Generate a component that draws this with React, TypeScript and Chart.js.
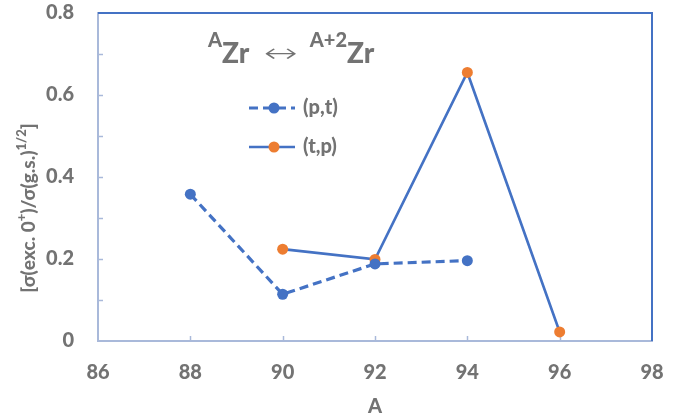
import React, { useEffect, useRef } from "react";
import { Chart, registerables } from "chart.js";

Chart.register(...registerables);

// ---- data ----
const massPT = [88, 90, 92, 94];
const ratioPT = [0.358, 0.114, 0.188, 0.196];
const massTP = [90, 92, 94, 96];
const ratioTP = [0.224, 0.199, 0.655, 0.022];
const seriesLabels = ["(p,t)", "(t,p)"];
const xMin = 86;
const xMax = 98;
const xStep = 2;
const yMin = 0;
const yMax = 0.8;
const yStep = 0.2;
const yMinorStep = 0.1;
const xTitle = "A";

const BLUE = "#4472C4";
const ORANGE = "#ED7D31";
const TEXT = "#737373";
const AXIS = "#A9B9DA";
const FONT = "Lato, 'Open Sans', sans-serif";
const W = "900";

const decorPlugin = {
  id: "decor",
  beforeDatasetsDraw(chart: any) {
    const { ctx, chartArea } = chart;
    const xs = chart.scales.x;
    const ys = chart.scales.y;
    ctx.save();
    ctx.strokeStyle = BLUE;
    ctx.lineWidth = 2;
    ctx.beginPath();
    ctx.moveTo(chartArea.left, chartArea.top);
    ctx.lineTo(chartArea.right, chartArea.top);
    ctx.lineTo(chartArea.right, chartArea.bottom);
    ctx.stroke();
    ctx.strokeStyle = AXIS;
    ctx.lineWidth = 1.5;
    for (let v = yMinorStep; v <= yMax - 1e-9; v += yMinorStep) {
      const py = Math.round(ys.getPixelForValue(v)) + 0.5;
      ctx.beginPath();
      ctx.moveTo(chartArea.left, py);
      ctx.lineTo(chartArea.left + 5, py);
      ctx.stroke();
    }
    for (let v = xMin + xStep; v < xMax; v += xStep) {
      const px = Math.round(xs.getPixelForValue(v)) + 0.5;
      ctx.beginPath();
      ctx.moveTo(px, chartArea.bottom);
      ctx.lineTo(px, chartArea.bottom - 5);
      ctx.stroke();
    }
    ctx.restore();
  },
  afterDraw(chart: any) {
    const { ctx } = chart;
    ctx.save();
    ctx.fillStyle = TEXT;
    ctx.textBaseline = "alphabetic";
    ctx.textAlign = "left";

    // y-axis title (rotated, with superscripts)
    const yParts: [string, boolean][] = [
      ["[σ(exc. 0", false],
      ["+", true],
      [")/σ(g.s.)", false],
      ["1/2", true],
      ["]", false],
    ];
    const mainFont = `${W} 19px ${FONT}`;
    const supFont = `${W} 13px ${FONT}`;
    let total = 0;
    for (const [t, sup] of yParts) {
      ctx.font = sup ? supFont : mainFont;
      total += ctx.measureText(t).width;
    }
    ctx.translate(35, 208);
    ctx.rotate(-Math.PI / 2);
    let cx = -total / 2;
    for (const [t, sup] of yParts) {
      ctx.font = sup ? supFont : mainFont;
      ctx.fillText(t, cx, sup ? -9 : 0);
      cx += ctx.measureText(t).width;
    }
    ctx.setTransform(1, 0, 0, 1, 0, 0);

    // annotation  AZr <-> A+2Zr
    const supA = `${W} 20px ${FONT}`;
    const big = `${W} 28px ${FONT}`;
    const base = 63;
    const supBase = 47;
    ctx.font = supA;
    ctx.fillText("A", 208, supBase);
    ctx.font = big;
    ctx.fillText("Zr", 222, base);
    ctx.font = `200 26px 'DejaVu Sans', sans-serif`;
    const aw = ctx.measureText("↔").width;
    ctx.save();
    ctx.translate(264, base - 1);
    ctx.scale(34 / aw, 1);
    ctx.fillText("↔", 0, 0);
    ctx.restore();
    ctx.font = supA;
    const a2w = ctx.measureText("A+2").width;
    ctx.fillText("A+2", 347 - a2w, supBase);
    ctx.font = big;
    ctx.fillText("Zr", 347, base);

    // legend
    const ds = chart.data.datasets;
    const rows = [108, 147];
    ds.forEach((d: any, i: number) => {
      const ly = rows[i];
      ctx.save();
      ctx.strokeStyle = d.borderColor;
      ctx.lineWidth = d.borderWidth;
      ctx.setLineDash(d.borderDash || []);
      ctx.beginPath();
      ctx.moveTo(249, ly);
      ctx.lineTo(295, ly);
      ctx.stroke();
      ctx.setLineDash([]);
      ctx.fillStyle = d.pointBackgroundColor;
      ctx.beginPath();
      ctx.arc(274, ly, d.pointRadius, 0, Math.PI * 2);
      ctx.fill();
      ctx.restore();
      ctx.font = `${W} 20px ${FONT}`;
      ctx.textBaseline = "middle";
      ctx.fillStyle = TEXT;
      ctx.fillText(d.label, 303, ly);
    });
    ctx.restore();
  },
};

export default function App() {
  const ref = useRef<HTMLCanvasElement | null>(null);
  useEffect(() => {
    document.body.style.margin = "0";
    if (!ref.current) return;
    const chart = new Chart(ref.current, {
      type: "scatter",
      data: {
        datasets: [
          {
            label: seriesLabels[0],
            data: massPT.map((m, i) => ({ x: m, y: ratioPT[i] })),
            showLine: true,
            borderColor: BLUE,
            borderWidth: 3.2,
            borderDash: [9, 5],
            pointBackgroundColor: BLUE,
            pointBorderColor: BLUE,
            pointBorderWidth: 0,
            pointRadius: 5.5,
          } as any,
          {
            label: seriesLabels[1],
            data: massTP.map((m, i) => ({ x: m, y: ratioTP[i] })),
            showLine: true,
            borderColor: BLUE,
            borderWidth: 2.6,
            pointBackgroundColor: ORANGE,
            pointBorderColor: ORANGE,
            pointBorderWidth: 0,
            pointRadius: 5.5,
          } as any,
        ],
      },
      options: {
        animation: false,
        responsive: false,
        devicePixelRatio: 1,
        layout: { padding: { top: 13, right: 30, left: 0, bottom: 0 } },
        plugins: { legend: { display: false }, tooltip: { enabled: false } },
        scales: {
          x: {
            type: "linear",
            min: xMin,
            max: xMax,
            ticks: {
              stepSize: xStep,
              color: TEXT,
              font: { family: FONT, size: 20, weight: W },
              padding: 12,
            },
            grid: { display: false },
            border: { display: true, color: AXIS, width: 2 },
            title: {
              display: true,
              text: xTitle,
              color: TEXT,
              font: { family: FONT, size: 20, weight: W },
              padding: { top: 6, bottom: 0 },
            },
            afterFit: (s: any) => {
              s.height = 78;
              s.paddingLeft = 0;
              s.paddingRight = 0;
            },
          },
          y: {
            type: "linear",
            min: yMin,
            max: yMax,
            ticks: {
              stepSize: yStep,
              color: TEXT,
              font: { family: FONT, size: 20, weight: W },
              padding: 16,
              callback: (v: any) => (Number(v) === 0 ? "0" : Number(v).toFixed(1)),
            },
            grid: { display: false },
            border: { display: true, color: AXIS, width: 2 },
            afterFit: (s: any) => {
              s.width = 98;
              s.paddingTop = 0;
              s.paddingBottom = 0;
            },
          },
        },
      },
      plugins: [decorPlugin],
    });
    return () => chart.destroy();
  }, []);
  return (
    <div style={{ width: 682, height: 419, background: "#fff" }}>
      <canvas ref={ref} width={682} height={419} style={{ display: "block" }} />
    </div>
  );
}
